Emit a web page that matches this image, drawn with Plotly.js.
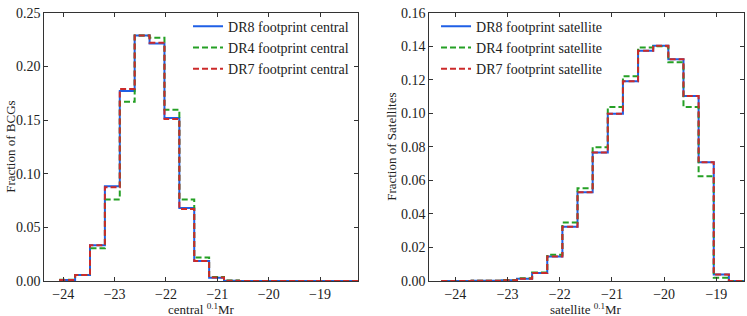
<!DOCTYPE html>
<html>
<head>
<meta charset="utf-8">
<script src="https://cdn.plot.ly/plotly-3.0.1.min.js"></script>
<style>html,body{margin:0;padding:0;background:#fff;}#chart{width:747px;height:316px;}</style>
</head>
<body>
<div id="chart"></div>
<script>
// ---- data ----
const centralEdges = [-24.06, -23.77, -23.48, -23.19, -22.90, -22.61, -22.32, -22.03, -21.74, -21.45, -21.16,
                      -20.87, -20.58, -20.29, -20.00, -19.71, -19.42, -19.13, -18.84, -18.55, -18.26];
const centralDR8 = [0.0010, 0.0055, 0.0334, 0.0882, 0.1770, 0.2288, 0.2213, 0.1518, 0.0680, 0.0187,
                    0.0031, 0.0003, 0, 0, 0, 0, 0, 0, 0, 0];
const centralDR4 = [0.0012, 0.0055, 0.0305, 0.0760, 0.1670, 0.2288, 0.2266, 0.1596, 0.0760, 0.0218,
                    0.0037, 0.0004, 0, 0, 0, 0, 0, 0, 0, 0];
const centralDR7 = [0.0010, 0.0055, 0.0334, 0.0873, 0.1790, 0.2288, 0.2220, 0.1510, 0.0670, 0.0187,
                    0.0033, 0.0003, 0, 0, 0, 0, 0, 0, 0, 0];

const satEdges = [-24.27, -23.98, -23.69, -23.40, -23.11, -22.82, -22.53, -22.24, -21.95, -21.66, -21.37,
                  -21.08, -20.79, -20.50, -20.21, -19.92, -19.63, -19.34, -19.05, -18.76, -18.47];
const satDR8 = [0, 0, 0.0001, 0.0002, 0.0005, 0.0014, 0.0048, 0.0146, 0.0323, 0.0529,
                0.0766, 0.0998, 0.1191, 0.1373, 0.1403, 0.1323, 0.1103, 0.0708, 0.0038, 0];
const satDR4 = [0, 0, 0.0001, 0.0002, 0.0006, 0.0016, 0.0050, 0.0156, 0.0349, 0.0553,
                0.0798, 0.1037, 0.1221, 0.1393, 0.1400, 0.1305, 0.1037, 0.0624, 0.0020, 0];
const satDR7 = [0, 0, 0.0001, 0.0002, 0.0005, 0.0014, 0.0048, 0.0146, 0.0323, 0.0529,
                0.0766, 0.0998, 0.1191, 0.1373, 0.1403, 0.1323, 0.1103, 0.0708, 0.0038, 0];

const centralNames = ["DR8 footprint central", "DR4 footprint central", "DR7 footprint central"];
const satNames = ["DR8 footprint satellite", "DR4 footprint satellite", "DR7 footprint satellite"];
const xTickVals = [-24, -23, -22, -21, -20, -19];
const yTitles = ["Fraction of BCGs", "Fraction of Satellites"];
const xTitles = ["central <sup>0.1</sup>Mr", "satellite <sup>0.1</sup>Mr"];

// ---- helpers ----
function stepXY(edges, vals) {
  const x = [edges[0]], y = [0];
  for (let i = 0; i < vals.length; i++) { x.push(edges[i]); y.push(vals[i]); }
  x.push(edges[edges.length - 1]); y.push(vals[vals.length - 1]);
  x.push(edges[edges.length - 1]); y.push(0);
  return {x, y};
}
const colors = ["#1f5fe6", "#25a025", "#cc2a2a"];
const dashes = ["solid", "6px,3px", "6px,3px"];
const FONT = "Liberation Serif, DejaVu Serif, serif";
const FS = 14;

const traces = [];
const cSets = [centralDR8, centralDR4, centralDR7];
const sSets = [satDR8, satDR4, satDR7];
cSets.forEach((v, i) => {
  const s = stepXY(centralEdges, v);
  traces.push({x: s.x, y: s.y, type: "scatter", mode: "lines", name: centralNames[i],
    line: {shape: "hv", color: colors[i], width: 2, dash: dashes[i]},
    xaxis: "x", yaxis: "y", legend: "legend", hoverinfo: "skip"});
});
sSets.forEach((v, i) => {
  const s = stepXY(satEdges, v);
  traces.push({x: s.x, y: s.y, type: "scatter", mode: "lines", name: satNames[i],
    line: {shape: "hv", color: colors[i], width: 2, dash: dashes[i]},
    xaxis: "x2", yaxis: "y2", legend: "legend2", hoverinfo: "skip"});
});

const axBase = {
  showline: true, linecolor: "#333", linewidth: 1, mirror: "ticks",
  ticks: "inside", ticklen: 4, tickcolor: "#333", tickwidth: 1,
  showgrid: false, zeroline: false, automargin: false,
  tickfont: {family: FONT, size: FS, color: "#222"}
};
const xTitleFont = {family: FONT, size: 13, color: "#222"};
const yTitleFont = {family: FONT, size: 13, color: "#222"};

const layout = {
  width: 747, height: 316,
  margin: {l: 0, r: 0, t: 0, b: 0},
  paper_bgcolor: "#fff", plot_bgcolor: "#fff",
  font: {family: FONT, color: "#222"},
  showlegend: true,
  xaxis: Object.assign({}, axBase, {
    domain: [0.0593, 0.4793], range: [-24.37, -18.26], tickvals: xTickVals
  }),
  yaxis: Object.assign({}, axBase, {
    domain: [0.1108, 0.9598], range: [0, 0.25], dtick: 0.05, tickformat: ".2f"
  }),
  xaxis2: Object.assign({}, axBase, {
    anchor: "y2",
    domain: [0.5747, 0.996], range: [-24.50, -18.47], tickvals: xTickVals
  }),
  yaxis2: Object.assign({}, axBase, {
    anchor: "x2",
    domain: [0.1108, 0.9598], range: [0, 0.16], dtick: 0.02, tickformat: ".2f"
  }),
  annotations: [
    {text: yTitles[0], xref: "paper", yref: "paper", x: 11 / 747, y: 0.5353,
     xanchor: "center", yanchor: "middle", textangle: -90, showarrow: false, font: yTitleFont},
    {text: yTitles[1], xref: "paper", yref: "paper", x: 392 / 747, y: 0.5353,
     xanchor: "center", yanchor: "middle", textangle: -90, showarrow: false, font: yTitleFont},
    {text: xTitles[0], xref: "paper", yref: "paper", x: 201 / 747, y: -2 / 316,
     xanchor: "center", yanchor: "bottom", showarrow: false, font: xTitleFont, borderpad: 0},
    {text: xTitles[1], xref: "paper", yref: "paper", x: 586 / 747, y: -2 / 316,
     xanchor: "center", yanchor: "bottom", showarrow: false, font: xTitleFont, borderpad: 0}
  ],
  legend: {x: 0.2517, y: 0.966, xanchor: "left", yanchor: "top", bgcolor: "rgba(0,0,0,0)",
           borderwidth: 0, font: {family: FONT, size: FS, color: "#222"}, itemwidth: 30},
  legend2: {x: 0.5837, y: 0.966, xanchor: "left", yanchor: "top", bgcolor: "rgba(0,0,0,0)",
            borderwidth: 0, font: {family: FONT, size: FS, color: "#222"}, itemwidth: 30}
};

Plotly.newPlot("chart", traces, layout, {staticPlot: true, displayModeBar: false});
</script>
</body>
</html>
